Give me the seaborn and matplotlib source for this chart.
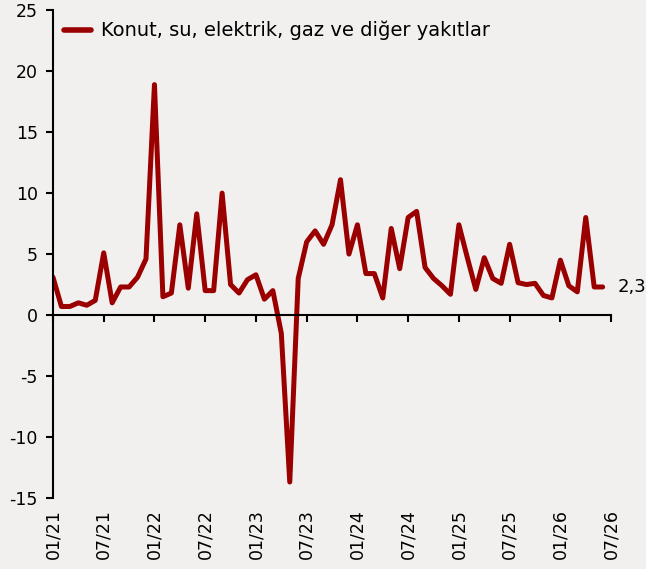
import matplotlib
matplotlib.use('Agg')
import matplotlib.pyplot as plt
import seaborn as sns
import numpy as np
import pandas as pd

# ---------------------------------------------------------------------------
# Data: monthly change, 01/21 .. 06/26
# ---------------------------------------------------------------------------

series_name = 'Konut, su, elektrik, gaz ve diğer yakıtlar'
values = [
    3.1, 0.7, 0.7, 1.0, 0.8, 1.2, 5.1, 1.0, 2.3, 2.3, 3.1, 4.6,   # 2021
    18.9, 1.5, 1.8, 7.4, 2.2, 8.3, 2.0, 2.0, 10.0, 2.5, 1.8, 2.9,  # 2022
    3.3, 1.3, 2.0, -1.5, -13.7, 3.0, 6.0, 6.9, 5.8, 7.4, 11.1, 5.0,  # 2023
    7.4, 3.4, 3.4, 1.4, 7.1, 3.8, 8.0, 8.5, 3.9, 3.0, 2.4, 1.7,    # 2024
    7.4, 4.7, 2.1, 4.7, 3.0, 2.6, 5.8, 2.65, 2.5, 2.6, 1.6, 1.4,   # 2025
    4.5, 2.4, 1.9, 8.0, 2.3, 2.3,                                  # 2026
]
tick_pos    = [0, 6, 12, 18, 24, 30, 36, 42, 48, 54, 60, 66]
tick_labels = ['01/21', '07/21', '01/22', '07/22', '01/23', '07/23',
               '01/24', '07/24', '01/25', '07/25', '01/26', '07/26']
y_ticks     = [-15, -10, -5, 0, 5, 10, 15, 20, 25]
last_label  = '2,3'

df = pd.DataFrame({'month': np.arange(len(values)), 'value': values,
                   'series': series_name})

# ---------------------------------------------------------------------------
# Plot
# ---------------------------------------------------------------------------

bg = '#f2f0ef'
red = '#9b0000'

sns.set_theme(style='white')
plt.rcParams['font.family'] = ['DejaVu Sans']
plt.rcParams['axes.unicode_minus'] = False
plt.rcParams['text.color'] = 'black'
plt.rcParams['xtick.color'] = 'black'
plt.rcParams['ytick.color'] = 'black'

fig = plt.figure(figsize=(6.46, 5.69), dpi=100, facecolor=bg)
ax = fig.add_axes([0.082, 0.125, 0.864, 0.857])
ax.set_facecolor(bg)

sns.lineplot(data=df, x='month', y='value', hue='series', palette=[red],
             linewidth=3.6, ax=ax, solid_capstyle='round',
             solid_joinstyle='round')

ax.set_xlim(0, 66)
ax.set_ylim(-15, 25)
ax.set_yticks(y_ticks)
ax.set_xlabel('')
ax.set_ylabel('')

# x axis line sits at zero, labels at the bottom
ax.spines['bottom'].set_position(('data', 0))
for s in ['top', 'right']:
    ax.spines[s].set_visible(False)
for s in ['left', 'bottom']:
    ax.spines[s].set_color('black')
    ax.spines[s].set_linewidth(1.5)

ax.set_xticks(tick_pos)
ax.tick_params(axis='x', direction='out', length=5, width=1.5,
               color='black', labelbottom=False, bottom=True)
ax.tick_params(axis='y', direction='out', length=5, width=1.5,
               color='black', labelcolor='black', labelsize=12.5,
               left=True, pad=6)

sec = ax.secondary_xaxis(0.0)
sec.set_xticks(tick_pos, tick_labels)
sec.tick_params(length=0, labelsize=12.5, labelcolor='black',
                rotation=90, pad=8)
sec.spines['bottom'].set_visible(False)

ax.annotate(last_label, xy=(len(values) - 1, values[-1]), xytext=(11, 0),
            textcoords='offset points', va='center', ha='left',
            fontsize=13, color='black', annotation_clip=False)

leg = ax.legend(loc='upper left', frameon=False, fontsize=14,
                handlelength=1.4, handletextpad=0.5,
                bbox_to_anchor=(0.0, 1.0), borderaxespad=0.15)
for line in leg.get_lines():
    line.set_linewidth(4)
for t in leg.get_texts():
    t.set_color('black')

fig.savefig('out.png', dpi=100, facecolor=bg)
